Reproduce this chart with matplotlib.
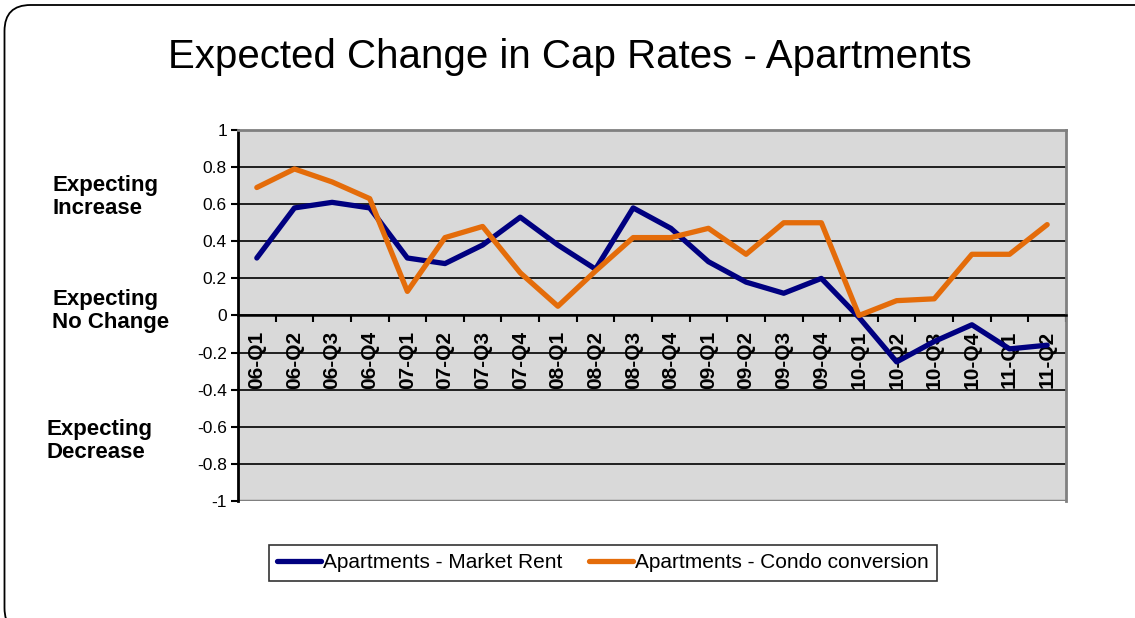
import numpy as np
import matplotlib
matplotlib.use("Agg")
import matplotlib.pyplot as plt
from matplotlib.patches import FancyBboxPatch
from matplotlib.transforms import IdentityTransform

plt.rcParams['font.family'] = ['Liberation Sans', 'DejaVu Sans']

# Data
quarters = ["06-Q1", "06-Q2", "06-Q3", "06-Q4", "07-Q1", "07-Q2", "07-Q3", "07-Q4",
            "08-Q1", "08-Q2", "08-Q3", "08-Q4", "09-Q1", "09-Q2", "09-Q3", "09-Q4",
            "10-Q1", "10-Q2", "10-Q3", "10-Q4", "11-Q1", "11-Q2"]
market_rent = [0.31, 0.58, 0.61, 0.58, 0.31, 0.28, 0.38, 0.53,
               0.38, 0.25, 0.58, 0.47, 0.29, 0.18, 0.12, 0.20,
               -0.01, -0.25, -0.14, -0.05, -0.18, -0.16]
condo_conv = [0.69, 0.79, 0.72, 0.63, 0.13, 0.42, 0.48, 0.23,
              0.05, 0.24, 0.42, 0.42, 0.47, 0.33, 0.50, 0.50,
              0.00, 0.08, 0.09, 0.33, 0.33, 0.49]
y_ticks = [-1, -0.8, -0.6, -0.4, -0.2, 0, 0.2, 0.4, 0.6, 0.8, 1]

W, H = 1135, 618
fig = plt.figure(figsize=(W / 100, H / 100), dpi=100)

# rounded frame around the whole slide-like chart
frame = FancyBboxPatch((4.5, -16), 1170, 629, boxstyle="round,pad=0,rounding_size=26",
                       transform=IdentityTransform(), facecolor='none',
                       edgecolor='black', linewidth=1.3)
fig.patches.append(frame)

ax = fig.add_axes([238 / W, 1 - 501 / H, (1066 - 238) / W, (501 - 130) / H])
ax.set_facecolor('#D9D9D9')

# spines first: moving the bottom spine resets the tick objects
ax.spines['bottom'].set_position(('data', 0))
ax.spines['bottom'].set_linewidth(1.8)
ax.spines['left'].set_linewidth(2)
for side in ['top', 'right']:
    ax.spines[side].set_color('#808080')
    ax.spines[side].set_linewidth(2)

x = np.arange(len(quarters))
ax.plot(x, market_rent, color='#000080', lw=3.8, solid_capstyle='round',
        label="Apartments - Market Rent", zorder=3)
ax.plot(x, condo_conv, color='#E46C0A', lw=3.8, solid_capstyle='round',
        label="Apartments - Condo conversion", zorder=3)

ax.set_xlim(-0.5, len(quarters) - 0.5)
ax.set_ylim(-1, 1)

# horizontal gridlines
for v in y_ticks[1:-1]:
    ax.axhline(v, color='black', lw=1.2, zorder=1)
ax.axhline(-1, color='#808080', lw=2.5, zorder=2)

ax.set_yticks(y_ticks)
ax.set_yticklabels([f"{v:g}" for v in y_ticks], fontsize=12.5)
ax.tick_params(axis='y', direction='out', length=5, width=1.5, pad=3)

ax.set_xticks(x)
ax.set_xticks(np.arange(0.5, len(quarters), 1.0), minor=True)
ax.tick_params(axis='x', which='major', length=0, pad=11)
ax.tick_params(axis='x', which='minor', direction='out', length=5, width=1.5)
ax.set_xticklabels(quarters, rotation=90, fontsize=15, fontweight='bold', va='top')

# title
fig.text(570 / W, 1 - 57 / H, "Expected Change in Cap Rates - Apartments",
         fontsize=29, ha='center', va='center')

# side annotations
side_notes = [("Expecting\nIncrease", 52, 197), ("Expecting\nNo Change", 52, 311),
              ("Expecting\nDecrease", 47, 441)]
for txt, px, py in side_notes:
    fig.text(px / W, 1 - py / H, txt, fontsize=16, fontweight='bold',
             ha='left', va='center', linespacing=1.15)

leg = fig.legend(loc='center', bbox_to_anchor=(603 / W, 1 - 563 / H), ncol=2,
                 frameon=True, fancybox=False, fontsize=15, handlelength=2.1,
                 handletextpad=0.1, columnspacing=1.3, borderpad=0.4)
leg.get_frame().set_edgecolor('black')
leg.get_frame().set_linewidth(1.2)

fig.savefig("out.png", dpi=100)
